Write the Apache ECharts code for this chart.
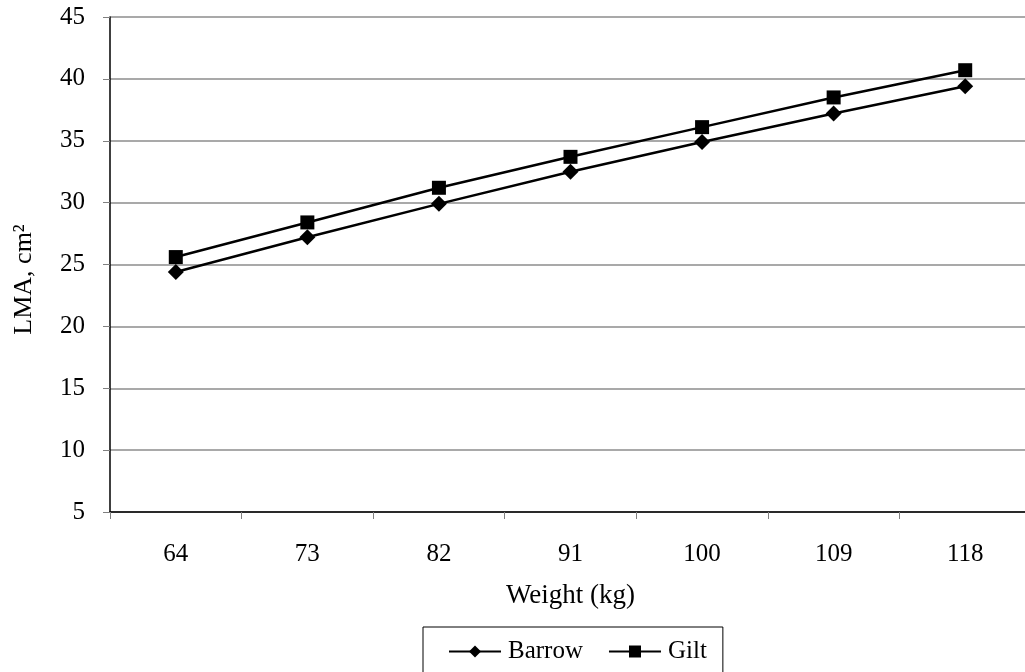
<!DOCTYPE html>
<html>
<head>
<meta charset="utf-8">
<script src="https://cdn.jsdelivr.net/npm/echarts@6/dist/echarts.min.js"></script>
<style>
html,body{margin:0;padding:0;background:#fff;overflow:hidden;width:1025px;height:672px;}
#chart{width:1031px;height:672px;}
</style>
</head>
<body>
<div id="chart"></div>
<script>
const categories = ['64', '73', '82', '91', '100', '109', '118'];
const barrow = [24.4, 27.2, 29.9, 32.5, 34.9, 37.2, 39.4];
const gilt = [25.6, 28.4, 31.2, 33.7, 36.1, 38.5, 40.7];
const yTicks = {min: 5, max: 45, interval: 5};

const font = 'Liberation Serif, Times New Roman, serif';
const chart = echarts.init(document.getElementById('chart'), null, {renderer: 'canvas'});
chart.setOption({
  animation: false,
  backgroundColor: '#fff',
  textStyle: {fontFamily: font, color: '#000'},
  grid: {left: 110, top: 17, right: 0, height: 495, containLabel: false},
  xAxis: {
    type: 'category',
    data: categories,
    boundaryGap: true,
    name: 'Weight (kg)',
    nameLocation: 'middle',
    nameGap: 70,
    nameTextStyle: {fontFamily: font, fontSize: 27, color: '#000'},
    axisLine: {lineStyle: {color: '#000', width: 1.5}},
    axisTick: {show: true, length: 7, lineStyle: {color: '#808080'}},
    axisLabel: {fontFamily: font, fontSize: 25, color: '#000', margin: 30},
    splitLine: {show: false}
  },
  yAxis: {
    type: 'value',
    min: yTicks.min, max: yTicks.max, interval: yTicks.interval,
    name: 'LMA, cm²',
    nameLocation: 'middle',
    nameGap: 73,
    nameTextStyle: {fontFamily: font, fontSize: 26, color: '#000', padding: [0, 30, 0, 0]},
    axisLine: {show: true, lineStyle: {color: '#000', width: 1.5}},
    axisTick: {show: true, length: 7, lineStyle: {color: '#808080'}},
    axisLabel: {fontFamily: font, fontSize: 25, color: '#000', margin: 25},
    splitLine: {show: true, lineStyle: {color: '#8c8c8c', width: 1.5}}
  },
  legend: {
    left: 423, top: 627,
    padding: [12, 16, 30, 25],
    borderColor: '#000', borderWidth: 1,
    backgroundColor: '#fff',
    itemWidth: 52, itemHeight: 15, itemGap: 25,
    textStyle: {fontFamily: font, fontSize: 25, color: '#000', padding: [0, 0, 0, 2]},
    data: ['Barrow', 'Gilt']
  },
  series: [
    {
      name: 'Barrow', type: 'line', data: barrow,
      symbol: 'diamond', symbolSize: 16,
      lineStyle: {color: '#000', width: 2.5},
      itemStyle: {color: '#000'}
    },
    {
      name: 'Gilt', type: 'line', data: gilt,
      symbol: 'rect', symbolSize: 14,
      lineStyle: {color: '#000', width: 2.5},
      itemStyle: {color: '#000'}
    }
  ]
});
</script>
</body>
</html>
